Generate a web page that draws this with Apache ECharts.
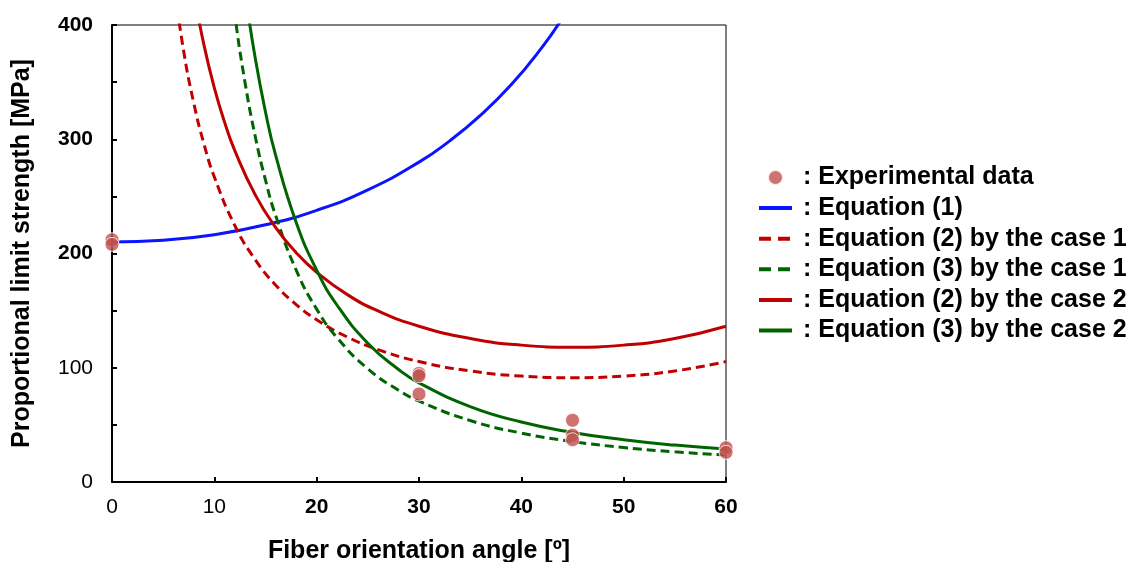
<!DOCTYPE html>
<html>
<head>
<meta charset="utf-8">
<title>Proportional limit strength</title>
<script src="https://cdn.jsdelivr.net/npm/echarts@6/dist/echarts.min.js"></script>
<style>
  html, body { margin: 0; padding: 0; background: #fff; }
  #chart { width: 1137px; height: 562px; }
</style>
</head>
<body>
<div id="chart"></div>
<script>
// tick labels
const xTicks = [0, 10, 20, 30, 40, 50, 60];
const yTicks = [0, 100, 200, 300, 400];

// experimental data [angle, MPa]
const expAngle = [0, 0, 30, 30, 30, 45, 45, 45, 60, 60];
const expValue = [212, 208, 95, 93, 77, 54, 41, 37, 30, 26];

// Equation (1)
const eq1Angle = [0, 5, 10, 15, 20, 25, 30, 33, 36, 39, 42, 44];
const eq1Value = [210, 211.6, 216.5, 225.1, 237.8, 255.7, 280, 298.6, 320.9, 347.6, 380.2, 405.8];

// Equation (2) by the case 1
const eq2c1Angle = [6, 7, 8, 9, 10, 12, 14, 16, 18, 20, 23, 26, 30, 35, 40, 45, 50, 55, 60];
const eq2c1Value = [439, 377.4, 331.3, 295.5, 267, 224.5, 194.5, 172.3, 155.3, 142, 126.9, 115.9, 105.4, 97.2, 92.7, 91.3, 92.7, 97.2, 105.4];

// Equation (3) by the case 1
const eq3c1Angle = [11, 12, 13, 14, 15, 16, 18, 20, 22, 25, 28, 30, 35, 40, 45, 50, 55, 60];
const eq3c1Value = [486, 409.4, 349.7, 302.4, 264.2, 233, 185.4, 151.3, 126.2, 99.1, 80.3, 70.8, 53.8, 42.8, 35.4, 30.2, 26.4, 23.6];

// Equation (2) by the case 2
const eq2c2Angle = [8, 9, 10, 11, 12, 14, 16, 18, 20, 23, 26, 30, 35, 40, 45, 50, 55, 60];
const eq2c2Value = [428, 381.9, 345, 315, 290.1, 251.3, 222.7, 200.7, 183.6, 164, 149.7, 136.3, 125.6, 119.8, 118, 119.8, 125.6, 136.3];

// Equation (3) by the case 2
const eq3c2Angle = [13, 14, 15, 16, 18, 20, 22, 25, 28, 30, 35, 40, 45, 50, 55, 60];
const eq3c2Value = [428.7, 370.8, 323.9, 285.6, 227.2, 185.5, 154.7, 121.5, 98.5, 86.8, 66, 52.5, 43.4, 37, 32.3, 28.9];

const FONT = '"Liberation Sans", Arial, sans-serif';

function pairs(xs, ys) {
  return xs.map((x, i) => [x, ys[i]]);
}

function curve(name, xs, ys, color, dashed) {
  return {
    name: name,
    type: 'line',
    data: pairs(xs, ys),
    smooth: true,
    showSymbol: false,
    symbol: 'none',
    clip: true,
    lineStyle: { color: color, width: 3, type: dashed ? [9, 5] : 'solid' },
    itemStyle: { color: color },
    z: 2
  };
}

// legend entry for a line: no dot, thick short dashes like the original
function lineEntry(name, dashed) {
  return {
    name: name,
    itemStyle: { opacity: 0 },
    lineStyle: { width: 4, type: dashed ? [12, 7] : 'solid' }
  };
}

const chart = echarts.init(document.getElementById('chart'));

const option = {
  animation: false,
  grid: {
    left: 112,
    right: 411,
    top: 25,
    bottom: 80,
    show: true,
    borderColor: '#000',
    borderWidth: 1,
    outerBoundsMode: 'none'
  },
  legend: {
    orient: 'vertical',
    left: 752,
    top: 160,
    itemWidth: 33,
    itemHeight: 15,
    itemGap: 5.6,
    data: [
      'Experimental data',
      lineEntry('Equation (1)', false),
      lineEntry('Equation (2) by the case 1', true),
      lineEntry('Equation (3) by the case 1', true),
      lineEntry('Equation (2) by the case 2', false),
      lineEntry('Equation (3) by the case 2', false)
    ],
    formatter: name => ': ' + name,
    textStyle: {
      fontFamily: FONT,
      fontWeight: 'bold',
      fontSize: 25,
      lineHeight: 25,
      color: '#000',
      padding: [0, 0, 0, 6]
    }
  },
  xAxis: {
    type: 'value',
    min: 0,
    max: 60,
    interval: 10,
    name: 'Fiber orientation angle [º]',
    nameLocation: 'middle',
    nameGap: 57,
    nameTextStyle: { fontFamily: FONT, fontWeight: 'bold', fontSize: 25, color: '#000' },
    axisLine: { show: true, lineStyle: { color: '#000', width: 2 } },
    axisTick: { show: true, inside: true, length: 5, lineStyle: { color: '#000', width: 2 } },
    axisLabel: {
      margin: 15,
      formatter: v => xTicks.indexOf(v) < 0 ? '' : (v <= 10 ? '{n|' + v + '}' : '{b|' + v + '}'),
      rich: {
        b: { fontFamily: FONT, fontWeight: 'bold', fontSize: 21, color: '#000' },
        n: { fontFamily: FONT, fontWeight: 'normal', fontSize: 21, color: '#000' }
      }
    },
    splitLine: { show: false }
  },
  yAxis: {
    type: 'value',
    min: 0,
    max: 400,
    interval: 50,
    name: 'Proportional limit strength [MPa]',
    nameLocation: 'middle',
    nameGap: 77,
    nameRotate: 90,
    nameTextStyle: { fontFamily: FONT, fontWeight: 'bold', fontSize: 25, color: '#000' },
    axisLine: { show: true, lineStyle: { color: '#000', width: 2 } },
    axisTick: { show: true, inside: true, length: 5, lineStyle: { color: '#000', width: 2 } },
    axisLabel: {
      margin: 19,
      formatter: v => yTicks.indexOf(v) < 0 ? '' : (v <= 100 ? '{n|' + v + '}' : '{b|' + v + '}'),
      rich: {
        b: { fontFamily: FONT, fontWeight: 'bold', fontSize: 21, color: '#000' },
        n: { fontFamily: FONT, fontWeight: 'normal', fontSize: 21, color: '#000' }
      }
    },
    splitLine: { show: false }
  },
  series: [
    curve('Equation (1)', eq1Angle, eq1Value, '#0a14ff', false),
    curve('Equation (2) by the case 1', eq2c1Angle, eq2c1Value, '#c00000', true),
    curve('Equation (3) by the case 1', eq3c1Angle, eq3c1Value, '#006400', true),
    curve('Equation (2) by the case 2', eq2c2Angle, eq2c2Value, '#c00000', false),
    curve('Equation (3) by the case 2', eq3c2Angle, eq3c2Value, '#006400', false),
    {
      name: 'Experimental data',
      type: 'scatter',
      data: pairs(expAngle, expValue),
      symbol: 'circle',
      symbolSize: 14,
      clip: false,
      itemStyle: { color: '#c0504d', borderColor: '#fff', borderWidth: 1 },
      z: 5
    }
  ]
};

chart.setOption(option);
</script>
</body>
</html>
